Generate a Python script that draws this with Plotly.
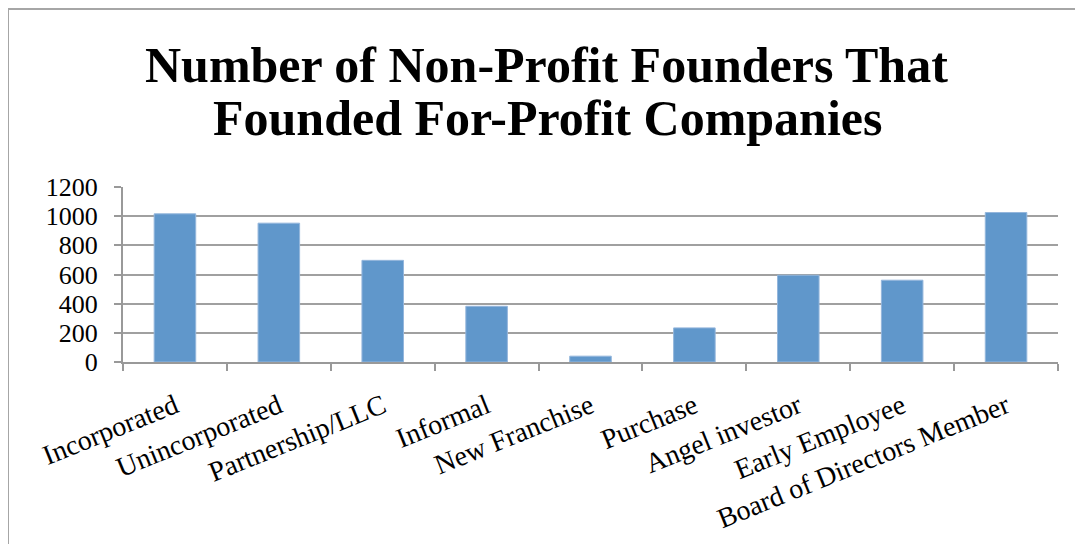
import plotly.graph_objects as go

categories = ["Incorporated", "Unincorporated", "Partnership/LLC", "Informal",
              "New Franchise", "Purchase", "Angel investor", "Early Employee",
              "Board of Directors Member"]
values = [1016, 952, 697, 382, 40, 234, 595, 561, 1025]
y_ticks = [0, 200, 400, 600, 800, 1000, 1200]
title_lines = ["Number of Non-Profit Founders That", "Founded For-Profit Companies"]

# page has an 8px body margin; figure coordinates are page coordinates minus 8
OFF = 8
W, H = 1083 - OFF, 544 - OFF
L = 123 - OFF
T = 187 - OFF
R = W - (1058 - OFF)
B = H - (362 - OFF)
pw, ph = W - L - R, H - T - B

def px_x(x):  # page x -> paper
    return (x - OFF - L) / pw

def px_y(y):  # page y -> paper
    return (H - B - (y - OFF)) / ph

fig = go.Figure(go.Bar(
    x=categories, y=values, width=0.4,
    marker=dict(color="#6097CB", line=dict(color="#94B6DC", width=1)),
))

FONT = "Liberation Serif"
fig.update_layout(
    width=W, height=H,
    margin=dict(l=L, r=R, t=T, b=B, autoexpand=False),
    paper_bgcolor="white", plot_bgcolor="white",
    showlegend=False,
    font=dict(family=FONT, color="black"),
    xaxis=dict(
        tickangle=-22, tickfont=dict(family=FONT, size=28, color="black"),
        showline=True, linecolor="#999999", linewidth=2,
        ticks="outside", tickson="boundaries", ticklen=7, tickwidth=2, tickcolor="#999999",
        showgrid=False, ticklabelstandoff=15,
    ),
    yaxis=dict(
        range=[0, 1200], tickvals=y_ticks,
        tickfont=dict(family=FONT, size=26, color="black"),
        showline=True, linecolor="#999999", linewidth=2,
        ticks="outside", ticklen=7, tickwidth=2, tickcolor="#999999",
        showgrid=True, gridcolor="#A0A0A0", gridwidth=2,
        zeroline=False, ticklabelstandoff=11,
    ),
    shapes=[
        dict(type="line", xref="paper", yref="paper",
             x0=px_x(8), x1=px_x(8), y0=px_y(8), y1=px_y(600),
             line=dict(color="#A6A6A6", width=2)),
        dict(type="line", xref="paper", yref="paper",
             x0=px_x(7), x1=px_x(1100), y0=px_y(9), y1=px_y(9),
             line=dict(color="#A6A6A6", width=2)),
    ],
    annotations=[
        dict(text=title_lines[0], xref="paper", yref="paper",
             x=px_x(546), y=px_y(65), xanchor="center", yanchor="middle",
             showarrow=False, font=dict(family=FONT, size=50, color="black", weight="bold")),
        dict(text=title_lines[1], xref="paper", yref="paper",
             x=px_x(547), y=px_y(118), xanchor="center", yanchor="middle",
             showarrow=False, font=dict(family=FONT, size=50, color="black", weight="bold")),
    ],
)

fig.write_html("out.html")
